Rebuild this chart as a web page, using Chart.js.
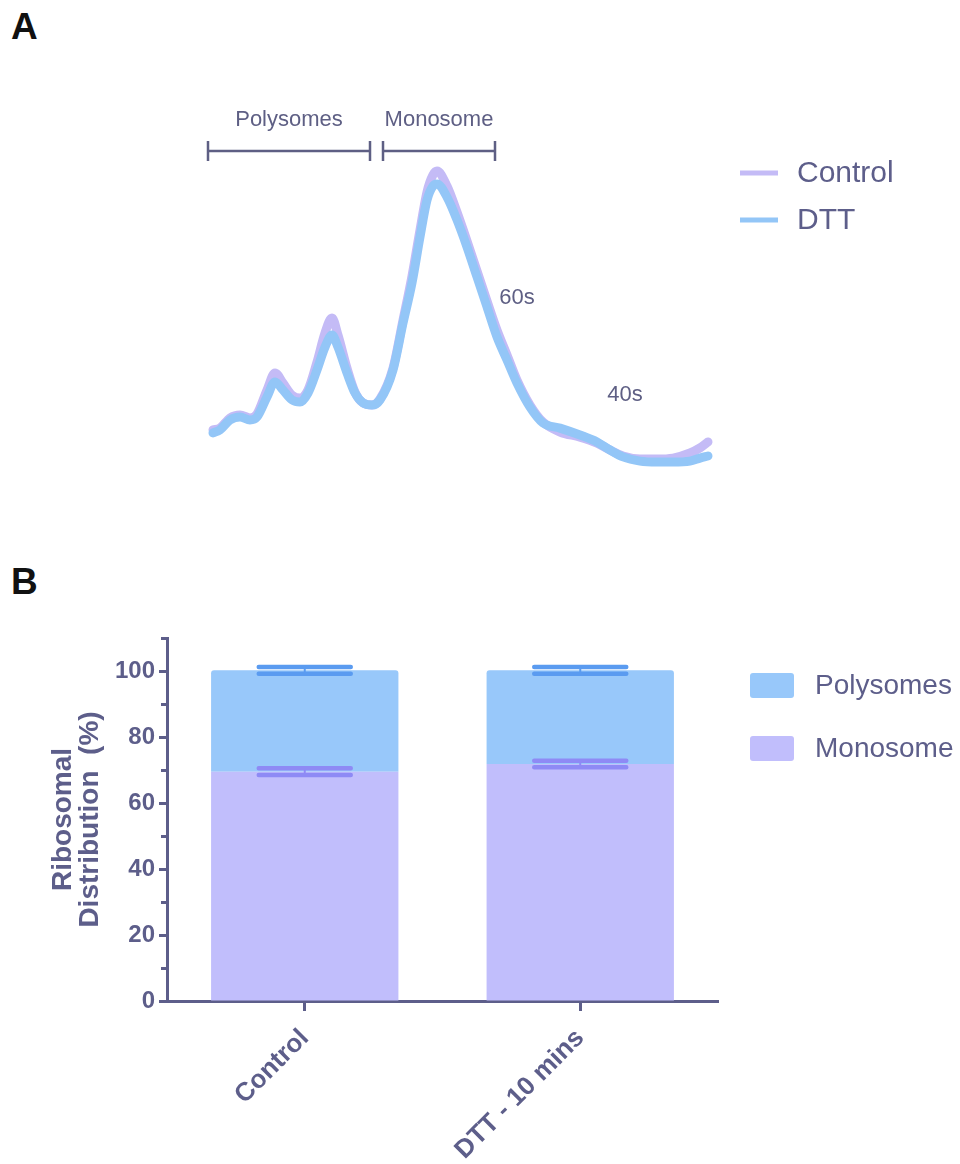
<!DOCTYPE html>
<html>
<head>
<meta charset="utf-8">
<title>Ribosome profiles</title>
<script src="https://cdn.jsdelivr.net/npm/chart.js@4.4.1/dist/chart.umd.min.js"></script>
<style>
  html, body { margin: 0; padding: 0; background: #ffffff; width: 960px; height: 1164px; overflow: hidden;
    font-family: "Liberation Sans", Arial, sans-serif; }
  .panel { position: absolute; left: 0; width: 960px; }
  #topWrap { top: 0; height: 540px; }
  #botWrap { top: 560px; height: 604px; }
  .tag { position: absolute; left: 11px; font-weight: bold; font-size: 37px; line-height: 1; color: #111111; }
</style>
</head>
<body>
<div class="tag" style="top:8px">A</div>
<div class="tag" style="top:563px">B</div>
<div class="panel" id="topWrap"><canvas id="profile" width="960" height="540" style="width:960px;height:540px"></canvas></div>
<div class="panel" id="botWrap"><canvas id="dist" width="960" height="604" style="width:960px;height:604px"></canvas></div>
<script>
// ---- Panel A: sucrose gradient profiles (A254 vs. gradient position) ----
const gradientPos = [0, 1.4, 3.4, 5.4, 7.4, 8.8, 10.8, 12.4, 14, 15.8,
  17.4, 19, 20.8, 22.4, 23.8, 25, 26.8, 28.4, 30, 31.8,
  33.4, 36, 38, 39.8, 41.4, 42.8, 44, 44.8, 46.8, 48.8,
  50.8, 52.8, 54.8, 56.8, 58.8, 60.8, 63.4, 66, 69.4, 73.4,
  76.8, 79.4, 82, 85.4, 88.8, 92, 95.4, 97.4, 99];
const controlA254 = [0.167, 0.173, 0.207, 0.217, 0.207, 0.220, 0.300, 0.357, 0.323, 0.283,
  0.273, 0.300, 0.393, 0.490, 0.540, 0.483, 0.373, 0.293, 0.257, 0.250,
  0.270, 0.373, 0.533, 0.680, 0.833, 0.960, 1.017, 1.030, 0.980, 0.893,
  0.797, 0.697, 0.597, 0.500, 0.417, 0.333, 0.250, 0.193, 0.160, 0.143,
  0.123, 0.100, 0.080, 0.070, 0.070, 0.073, 0.090, 0.107, 0.127];
const dttA254 = [0.157, 0.167, 0.200, 0.210, 0.200, 0.210, 0.277, 0.327, 0.300, 0.267,
  0.260, 0.290, 0.367, 0.443, 0.483, 0.443, 0.357, 0.290, 0.257, 0.250,
  0.267, 0.367, 0.523, 0.657, 0.810, 0.933, 0.980, 0.987, 0.943, 0.867,
  0.777, 0.677, 0.577, 0.477, 0.400, 0.323, 0.243, 0.190, 0.173, 0.150,
  0.127, 0.100, 0.077, 0.063, 0.060, 0.060, 0.063, 0.073, 0.080];

// gradient fractions pooled for quantification, and subunit positions
const fractionNames = ['Polysomes', 'Monosome'];
const fractionStart = [-1, 34];
const fractionEnd = [31.4, 56.4];
const subunitNames = ['60s', '40s'];
const subunitPos = [60.8, 82.4];
const subunitLevel = [0.607, 0.283];

// ---- Panel B: ribosomal distribution (%), mean and SD ----
const groups = ['Control', 'DTT - 10 mins'];
const monosomePct = [69.5, 71.8];
const monosomeSD = [1.0, 1.0];
const polysomePct = [30.7, 28.4];
const polysomeSD = [1.05, 1.05];

const ink = '#5d5e8a';
const fontFam = '"Liberation Sans", Arial, sans-serif';

const profileMarks = {
  id: 'profileMarks',
  afterDatasetsDraw(chart) {
    const { ctx, scales: { x, y } } = chart;
    ctx.save();
    ctx.strokeStyle = '#5e5f84';
    ctx.fillStyle = '#5e5f84';
    ctx.lineWidth = 2.5;
    ctx.font = '22px ' + fontFam;
    ctx.textAlign = 'center';
    ctx.textBaseline = 'middle';
    const yb = y.getPixelForValue(1.097);
    fractionNames.forEach((name, i) => {
      const x0 = x.getPixelForValue(fractionStart[i]);
      const x1 = x.getPixelForValue(fractionEnd[i]);
      ctx.beginPath();
      ctx.moveTo(x0, yb); ctx.lineTo(x1, yb);
      ctx.moveTo(x0, yb - 10); ctx.lineTo(x0, yb + 10);
      ctx.moveTo(x1, yb - 10); ctx.lineTo(x1, yb + 10);
      ctx.stroke();
      ctx.fillText(name, (x0 + x1) / 2, yb - 31);
    });
    subunitNames.forEach((name, i) => {
      ctx.fillText(name, x.getPixelForValue(subunitPos[i]), y.getPixelForValue(subunitLevel[i]));
    });
    // legend
    ctx.font = '30px ' + fontFam;
    ctx.textAlign = 'left';
    chart.data.datasets.forEach((ds, i) => {
      const ly = 173 + i * 47;
      ctx.strokeStyle = ds.borderColor;
      ctx.lineWidth = 5;
      ctx.lineCap = 'butt';
      ctx.beginPath(); ctx.moveTo(740, ly); ctx.lineTo(778, ly); ctx.stroke();
      ctx.fillStyle = ink;
      ctx.fillText(ds.label, 797, ly + 1);
    });
    ctx.restore();
  }
};

new Chart(document.getElementById('profile'), {
  type: 'line',
  data: {
    labels: gradientPos,
    datasets: [
      { label: 'Control', data: gradientPos.map((g, i) => ({ x: g, y: controlA254[i] })),
        borderColor: '#c4bbf6', borderWidth: 9, pointRadius: 0, cubicInterpolationMode: 'monotone',
        borderCapStyle: 'round', borderJoinStyle: 'round', clip: false, order: 2 },
      { label: 'DTT', data: gradientPos.map((g, i) => ({ x: g, y: dttA254[i] })),
        borderColor: '#93c6f7', borderWidth: 9, pointRadius: 0, cubicInterpolationMode: 'monotone',
        borderCapStyle: 'round', borderJoinStyle: 'round', clip: false, order: 1 }
    ]
  },
  options: {
    responsive: false, animation: false,
    layout: { padding: { left: 213, right: 247, top: 120, bottom: 60 } },
    plugins: { legend: { display: false }, tooltip: { enabled: false } },
    scales: {
      x: { type: 'linear', min: 0, max: 100, display: false },
      y: { min: 0, max: 1.2, display: false }
    }
  },
  plugins: [profileMarks]
});

const distMarks = {
  id: 'distMarks',
  afterDatasetsDraw(chart) {
    const { ctx, scales: { x, y } } = chart;
    ctx.save();
    // error bars
    const sets = [
      { mean: monosomePct, sd: monosomeSD, base: [0, 0], color: '#8e8af5', meta: chart.getDatasetMeta(0) },
      { mean: polysomePct, sd: polysomeSD, base: monosomePct, color: '#5a9bf0', meta: chart.getDatasetMeta(1) }
    ];
    sets.forEach(s => {
      s.mean.forEach((m, j) => {
        const cx = s.meta.data[j].x;
        const top = s.base[j] + m;
        const yHi = y.getPixelForValue(top + s.sd[j]);
        const yLo = y.getPixelForValue(top - s.sd[j]);
        ctx.strokeStyle = s.color;
        ctx.lineCap = 'round';
        ctx.lineWidth = 2;
        ctx.beginPath(); ctx.moveTo(cx, yHi); ctx.lineTo(cx, yLo); ctx.stroke();
        ctx.lineWidth = 4.5;
        ctx.beginPath();
        ctx.moveTo(cx - 46, yHi); ctx.lineTo(cx + 46, yHi);
        ctx.moveTo(cx - 46, yLo); ctx.lineTo(cx + 46, yLo);
        ctx.stroke();
      });
    });
    // minor ticks on the y axis
    ctx.strokeStyle = ink;
    ctx.lineWidth = 3;
    ctx.lineCap = 'butt';
    for (let v = 10; v <= 110; v += 20) {
      const py = Math.round(y.getPixelForValue(v)) + 0.5;
      ctx.beginPath(); ctx.moveTo(x.left - 6, py); ctx.lineTo(x.left, py); ctx.stroke();
    }
    // legend
    ctx.font = '28px ' + fontFam;
    ctx.textAlign = 'left';
    ctx.textBaseline = 'middle';
    const entries = chart.data.datasets.slice().reverse();
    entries.forEach((ds, i) => {
      const ly = 125 + i * 63;
      ctx.fillStyle = ds.backgroundColor;
      ctx.beginPath();
      ctx.roundRect(750, ly - 12, 44, 25, 3);
      ctx.fill();
      ctx.fillStyle = ink;
      ctx.fillText(ds.label, 815, ly + 1);
    });
    ctx.restore();
  }
};

new Chart(document.getElementById('dist'), {
  type: 'bar',
  data: {
    labels: groups,
    datasets: [
      { label: 'Monosome', data: monosomePct, backgroundColor: '#c1befc', borderWidth: 0 },
      { label: 'Polysomes', data: polysomePct, backgroundColor: '#98c8fa', borderWidth: 0,
        borderRadius: { topLeft: 3, topRight: 3, bottomLeft: 0, bottomRight: 0 }, borderSkipped: 'bottom' }
    ]
  },
  options: {
    responsive: false, animation: false,
    layout: { padding: { left: 0, right: 242, top: 78, bottom: 0 } },
    plugins: { legend: { display: false }, tooltip: { enabled: false } },
    datasets: { bar: { categoryPercentage: 1, barPercentage: 0.68 } },
    scales: {
      x: {
        stacked: true,
        border: { color: ink, width: 3 },
        grid: { drawOnChartArea: false, offset: false, tickLength: 10, tickWidth: 3, tickColor: ink },
        ticks: { color: ink, font: { family: fontFam, weight: 'bold', size: 26 }, minRotation: 45, maxRotation: 45, padding: 12 },
        afterFit(s) { s.height = 163; }
      },
      y: {
        stacked: true, min: 0, max: 110,
        border: { color: ink, width: 3 },
        grid: { drawOnChartArea: false, tickLength: 8, tickWidth: 3,
          tickColor: c => (c.tick && c.tick.value % 20 === 0) ? ink : 'rgba(0,0,0,0)' },
        ticks: { stepSize: 10, autoSkip: false, color: ink, padding: 4,
          font: { family: fontFam, weight: 'bold', size: 24 },
          callback: v => (v % 20 === 0 ? String(v) : '') },
        title: { display: true, text: ['Ribosomal', 'Distribution  (%)'], color: ink,
          font: { family: fontFam, weight: 'bold', size: 28, lineHeight: 0.95 }, padding: { top: 50, bottom: 0 } },
        afterFit(s) { s.width = 167; }
      }
    }
  },
  plugins: [distMarks]
});
</script>
</body>
</html>
